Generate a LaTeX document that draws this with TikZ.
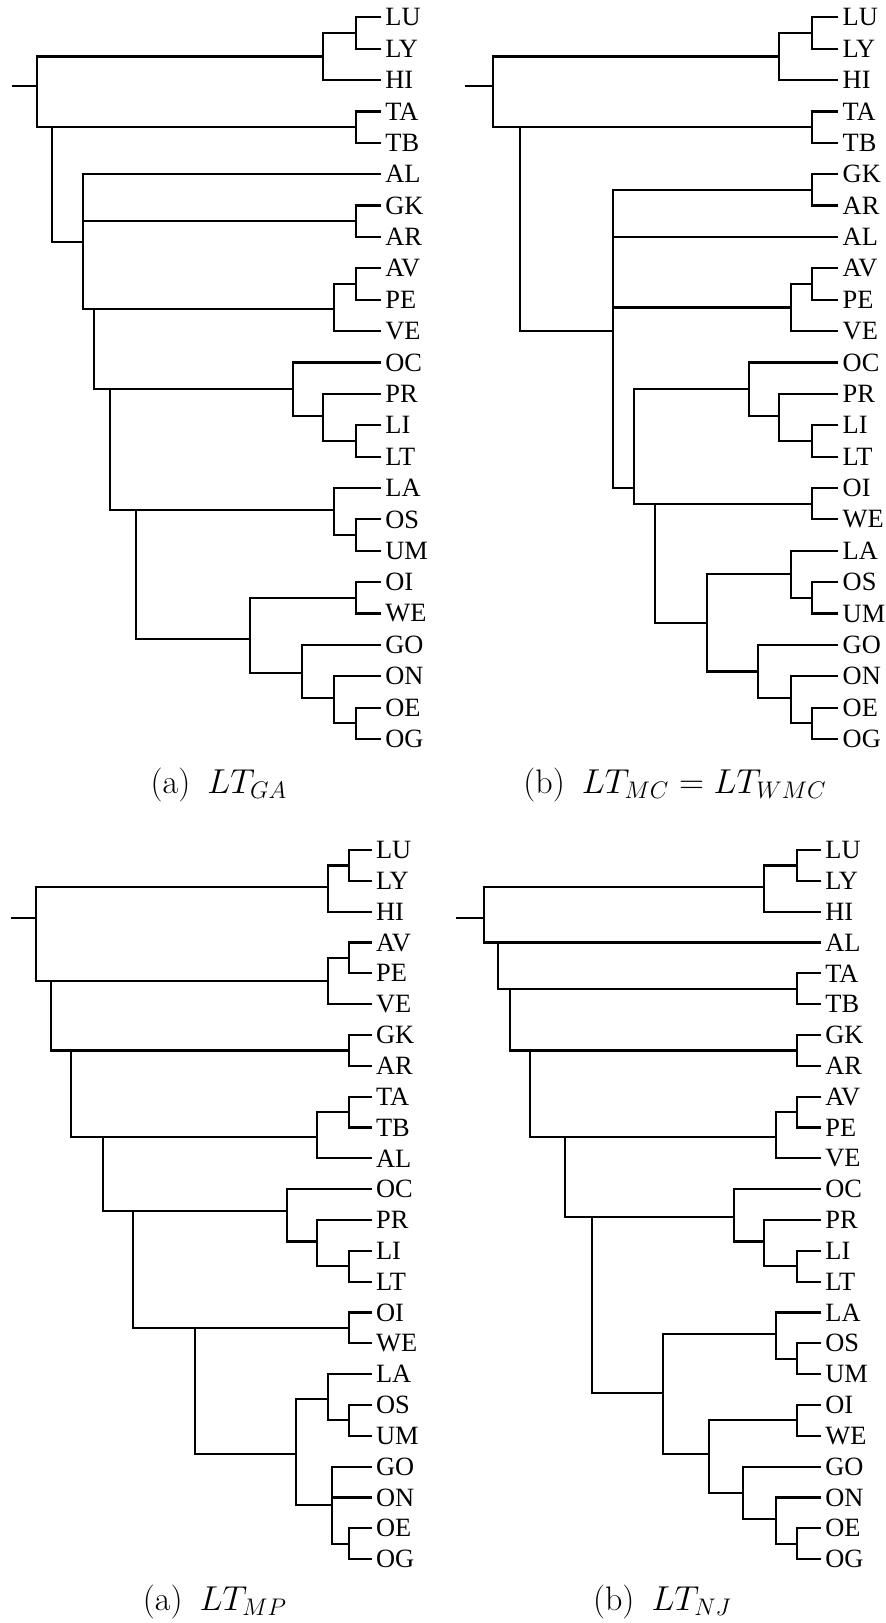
\documentclass[tikz,border=0pt]{standalone}
\usepackage[no-math]{fontspec}
\newfontfamily\leaffont{Liberation Serif}
\usepackage{tikz}
\tikzset{
  dgbranch/.style={line width=1.1pt, draw=black},
  dgleaf/.style={anchor=west, inner sep=2pt, font=\leaffont\fontsize{13.2}{15}\selectfont},
  dgcap/.style={anchor=base, inner sep=0pt, font=\fontsize{17}{20}\selectfont},
}

\begin{document}
\begin{tikzpicture}[x=0.5pt,y=-0.5pt]
\useasboundingbox (0,0) rectangle (885,1623);

% (a) LT_GA
\begin{scope}[yshift=-8.65pt,y=-15.69pt]
\foreach \tx [count=\i from 0] in {LU,LY,HI,TA,TB,AL,GK,AR,AV,PE,VE,OC,PR,LI,LT,LA,OS,UM,OI,WE,GO,ON,OE,OG}
  \node[dgleaf] (ga-\tx) at (381,\i) {\tx};
\coordinate (ga-s) at (11.7,2.2);
\coordinate (ga-n0) at (37.3,2.2);
\coordinate (ga-n1) at (322.7,1.25);
\coordinate (ga-n2) at (356,0.5);
\coordinate (ga-n3) at (51.7,3.5);
\coordinate (ga-n4) at (356,3.5);
\coordinate (ga-n5) at (83.3,7.15);
\coordinate (ga-n6) at (356,6.5);
\coordinate (ga-n7) at (94.3,9.3);
\coordinate (ga-n8) at (334.3,9.3);
\coordinate (ga-n9) at (356,8.5);
\coordinate (ga-n10) at (110.3,11.85);
\coordinate (ga-n11) at (292.7,11.85);
\coordinate (ga-n12) at (322.7,12.7);
\coordinate (ga-n13) at (356,13.5);
\coordinate (ga-n14) at (136,15.7);
\coordinate (ga-n15) at (334.3,15.7);
\coordinate (ga-n16) at (356,16.5);
\coordinate (ga-n17) at (250,19.8);
\coordinate (ga-n18) at (356,18.5);
\coordinate (ga-n19) at (302.3,20.9);
\coordinate (ga-n20) at (334.3,21.7);
\coordinate (ga-n21) at (356,22.5);
\draw[dgbranch] (ga-s) -- (ga-n0);
\foreach \p/\c in {n0/n1, n0/n3, n1/n2, n1/HI.west, n2/LU.west, n2/LY.west,
    n3/n4, n3/n5, n4/TA.west, n4/TB.west,
    n5/AL.west, n5/n6, n5/n7, n6/GK.west, n6/AR.west,
    n7/n8, n7/n10, n8/n9, n8/VE.west, n9/AV.west, n9/PE.west,
    n10/n11, n10/n14, n11/OC.west, n11/n12, n12/PR.west, n12/n13, n13/LI.west, n13/LT.west,
    n14/n15, n14/n17, n15/LA.west, n15/n16, n16/OS.west, n16/UM.west,
    n17/n18, n17/n19, n18/OI.west, n18/WE.west, n19/GO.west, n19/n20,
    n20/ON.west, n20/n21, n21/OE.west, n21/OG.west}
  \draw[dgbranch] (ga-\p) |- (ga-\c);
\end{scope}

% (b) LT_MC = LT_WMC
\begin{scope}[yshift=-8.65pt,y=-15.69pt]
\foreach \tx [count=\i from 0] in {LU,LY,HI,TA,TB,GK,AR,AL,AV,PE,VE,OC,PR,LI,LT,OI,WE,LA,OS,UM,GO,ON,OE,OG}
  \node[dgleaf] (mc-\tx) at (838.3,\i) {\tx};
\coordinate (mc-s) at (465,2.2);
\coordinate (mc-n0) at (493.3,2.2);
\coordinate (mc-n1) at (779.3,1.25);
\coordinate (mc-n2) at (811.7,0.5);
\coordinate (mc-n3) at (520,3.5);
\coordinate (mc-n4) at (811.7,3.5);
\coordinate (mc-n5) at (613.3,10);
\coordinate (mc-n6) at (811.7,5.5);
\coordinate (mc-n7) at (790.7,9.25);
\coordinate (mc-n8) at (811.7,8.5);
\coordinate (mc-n9) at (634.3,15);
\coordinate (mc-n10) at (749.3,11.85);
\coordinate (mc-n11) at (779.3,12.7);
\coordinate (mc-n12) at (811.7,13.5);
\coordinate (mc-n13) at (655,15.5);
\coordinate (mc-n14) at (811.7,15.5);
\coordinate (mc-n15) at (706.7,19.3);
\coordinate (mc-n16) at (790.7,17.75);
\coordinate (mc-n17) at (811.7,18.5);
\coordinate (mc-n18) at (757.7,20.85);
\coordinate (mc-n19) at (790.7,21.7);
\coordinate (mc-n20) at (811.7,22.5);
\draw[dgbranch] (mc-s) -- (mc-n0);
\foreach \p/\c in {n0/n1, n0/n3, n1/n2, n1/HI.west, n2/LU.west, n2/LY.west,
    n3/n4, n3/n5, n4/TA.west, n4/TB.west,
    n5/n6, n5/AL.west, n5/n7, n5/n9, n6/GK.west, n6/AR.west,
    n7/n8, n7/VE.west, n8/AV.west, n8/PE.west,
    n9/n10, n9/n13, n10/OC.west, n10/n11, n11/PR.west, n11/n12, n12/LI.west, n12/LT.west,
    n13/n14, n13/n15, n14/OI.west, n14/WE.west,
    n15/n16, n15/n18, n16/LA.west, n16/n17, n17/OS.west, n17/UM.west,
    n18/GO.west, n18/n19, n19/ON.west, n19/n20, n20/OE.west, n20/OG.west}
  \draw[dgbranch] (mc-\p) |- (mc-\c);
\end{scope}

% (a) LT_MP
\begin{scope}[yshift=-425pt,y=-15.415pt]
\foreach \tx [count=\i from 0] in {LU,LY,HI,AV,PE,VE,GK,AR,TA,TB,AL,OC,PR,LI,LT,OI,WE,LA,OS,UM,GO,ON,OE,OG}
  \node[dgleaf] (mp-\tx) at (371.7,\i) {\tx};
\coordinate (mp-s) at (10.7,2.2);
\coordinate (mp-n0) at (36,2.2);
\coordinate (mp-n1) at (328.3,1.2);
\coordinate (mp-n2) at (349,0.5);
\coordinate (mp-n3) at (51,4.25);
\coordinate (mp-n4) at (328.3,4.25);
\coordinate (mp-n5) at (349,3.5);
\coordinate (mp-n6) at (71,6.5);
\coordinate (mp-n7) at (349,6.5);
\coordinate (mp-n8) at (103.3,9.3);
\coordinate (mp-n9) at (316.7,9.3);
\coordinate (mp-n10) at (349,8.5);
\coordinate (mp-n11) at (133.3,11.7);
\coordinate (mp-n12) at (286.7,11.7);
\coordinate (mp-n13) at (316.7,12.7);
\coordinate (mp-n14) at (349,13.5);
\coordinate (mp-n15) at (195,15.5);
\coordinate (mp-n16) at (349,15.5);
\coordinate (mp-n17) at (296,19.6);
\coordinate (mp-n18) at (328.3,17.8);
\coordinate (mp-n19) at (349,18.5);
\coordinate (mp-n20) at (332.3,21.25);
\coordinate (mp-n21) at (349,22.5);
\draw[dgbranch] (mp-s) -- (mp-n0);
\foreach \p/\c in {n0/n1, n0/n3, n1/n2, n1/HI.west, n2/LU.west, n2/LY.west,
    n3/n4, n3/n6, n4/n5, n4/VE.west, n5/AV.west, n5/PE.west,
    n6/n7, n6/n8, n7/GK.west, n7/AR.west,
    n8/n9, n8/n11, n9/n10, n9/AL.west, n10/TA.west, n10/TB.west,
    n11/n12, n11/n15, n12/OC.west, n12/n13, n13/PR.west, n13/n14, n14/LI.west, n14/LT.west,
    n15/n16, n15/n17, n16/OI.west, n16/WE.west,
    n17/n18, n17/n20, n18/LA.west, n18/n19, n19/OS.west, n19/UM.west,
    n20/GO.west, n20/ON.west, n20/n21, n21/OE.west, n21/OG.west}
  \draw[dgbranch] (mp-\p) |- (mp-\c);
\end{scope}

% (b) LT_NJ
\begin{scope}[yshift=-425pt,y=-15.415pt]
\foreach \tx [count=\i from 0] in {LU,LY,HI,AL,TA,TB,GK,AR,AV,PE,VE,OC,PR,LI,LT,LA,OS,UM,OI,WE,GO,ON,OE,OG}
  \node[dgleaf] (nj-\tx) at (821,\i) {\tx};
\coordinate (nj-s) at (456,2.2);
\coordinate (nj-n0) at (484,2.2);
\coordinate (nj-n1) at (764.3,1.2);
\coordinate (nj-n2) at (796.7,0.5);
\coordinate (nj-n3) at (498.3,3);
\coordinate (nj-n4) at (510,4.5);
\coordinate (nj-n5) at (796.7,4.5);
\coordinate (nj-n6) at (530,6.5);
\coordinate (nj-n7) at (796.7,6.5);
\coordinate (nj-n8) at (565,9.3);
\coordinate (nj-n9) at (775.7,9.3);
\coordinate (nj-n10) at (796.7,8.5);
\coordinate (nj-n11) at (592.3,11.9);
\coordinate (nj-n12) at (734.3,11.9);
\coordinate (nj-n13) at (764.3,12.7);
\coordinate (nj-n14) at (796.7,13.5);
\coordinate (nj-n15) at (662.7,17.6);
\coordinate (nj-n16) at (775.7,15.7);
\coordinate (nj-n17) at (796.7,16.5);
\coordinate (nj-n18) at (709.3,19.6);
\coordinate (nj-n19) at (796.7,18.5);
\coordinate (nj-n20) at (743.3,20.85);
\coordinate (nj-n21) at (775.7,21.7);
\coordinate (nj-n22) at (796.7,22.5);
\draw[dgbranch] (nj-s) -- (nj-n0);
\foreach \p/\c in {n0/n1, n0/n3, n1/n2, n1/HI.west, n2/LU.west, n2/LY.west,
    n3/AL.west, n3/n4, n4/n5, n4/n6, n5/TA.west, n5/TB.west,
    n6/n7, n6/n8, n7/GK.west, n7/AR.west,
    n8/n9, n8/n11, n9/n10, n9/VE.west, n10/AV.west, n10/PE.west,
    n11/n12, n11/n15, n12/OC.west, n12/n13, n13/PR.west, n13/n14, n14/LI.west, n14/LT.west,
    n15/n16, n15/n18, n16/LA.west, n16/n17, n17/OS.west, n17/UM.west,
    n18/n19, n18/n20, n19/OI.west, n19/WE.west, n20/GO.west, n20/n21,
    n21/ON.west, n21/n22, n22/OE.west, n22/OG.west}
  \draw[dgbranch] (nj-\p) |- (nj-\c);
\end{scope}

% captions
\node[dgcap] (cap-ga) at (219,793) {(a)\enspace$LT_{GA}$};
\node[dgcap] (cap-mc) at (675,793) {(b)\enspace$LT_{MC}=LT_{WMC}$};
\node[dgcap] (cap-mp) at (215,1610) {(a)\enspace$LT_{MP}$};
\node[dgcap] (cap-nj) at (662.5,1610) {(b)\enspace$LT_{NJ}$};
\end{tikzpicture}
\end{document}
